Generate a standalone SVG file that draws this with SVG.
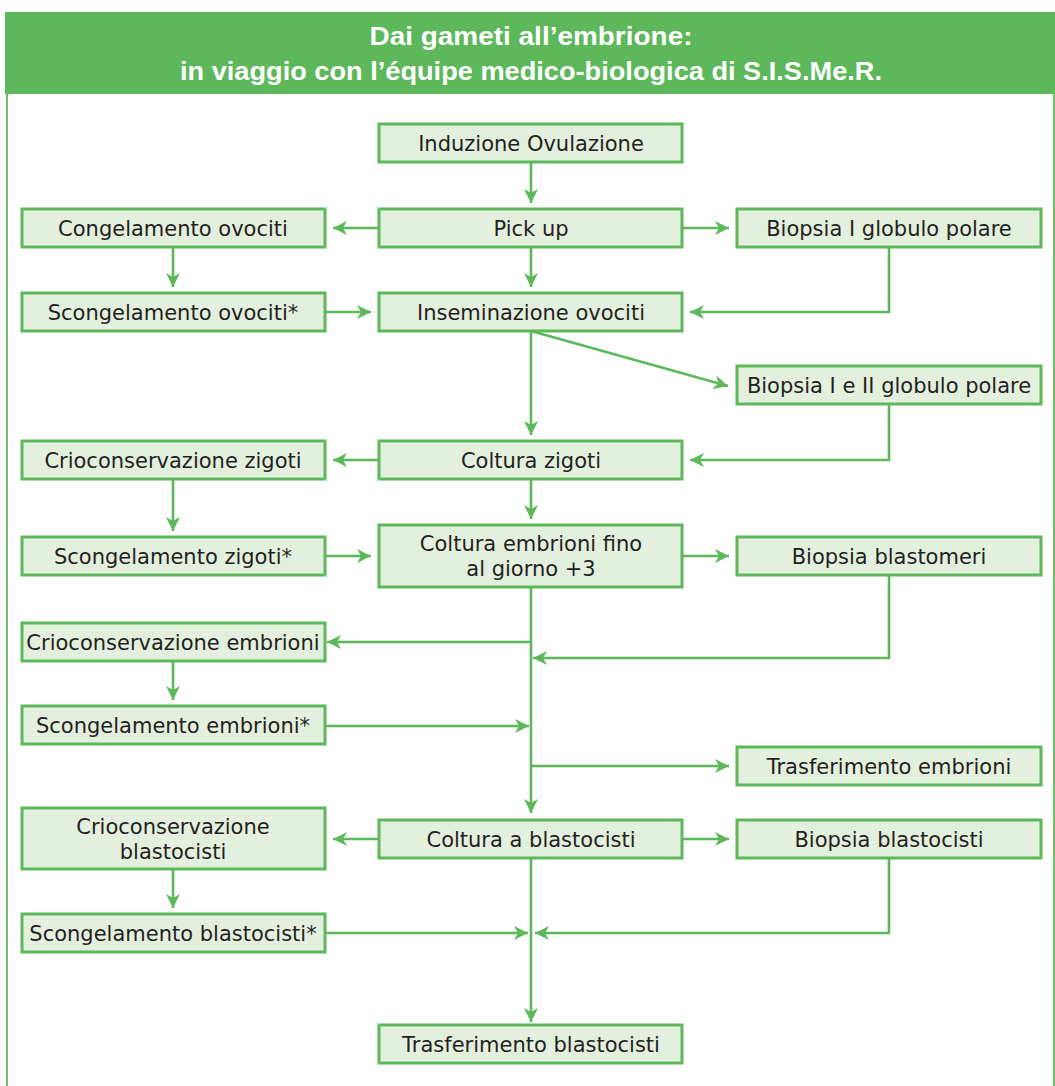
<svg xmlns="http://www.w3.org/2000/svg" width="1055" height="1086" viewBox="0 0 1055 1086">
<style>
.node rect{fill:#e3f0de;stroke:#5cb85a;stroke-width:3}
.node text{font-family:"DejaVu Sans",sans-serif;font-size:21px;fill:#231f20;text-anchor:middle}
.title{font-family:"Liberation Sans",Arial,sans-serif;font-weight:bold;font-size:26px;fill:#ffffff;text-anchor:middle}
#connectors path{fill:none;stroke:#5cb85a;stroke-width:2.6;marker-end:url(#arr)}
</style>
<defs>
<marker id="arr" markerUnits="userSpaceOnUse" markerWidth="16" markerHeight="14" refX="14" refY="7" orient="auto">
<path d="M0,0 L14,7 L0,14 L4,7 z" fill="#5cb85a"/>
</marker>
</defs>
<rect x="0" y="0" width="1055" height="1086" fill="#ffffff"/>
<g id="frame">
<line x1="7" y1="94" x2="7" y2="1086" stroke="#6cc06a" stroke-width="2"/>
<line x1="1054" y1="94" x2="1054" y2="1086" stroke="#6cc06a" stroke-width="2"/>
<rect x="5" y="12" width="1050" height="82" fill="#5cb85a"/>
<text class="title" x="531" y="45" textLength="323" lengthAdjust="spacingAndGlyphs">Dai gameti all’embrione:</text>
<text class="title" x="531" y="80" textLength="702" lengthAdjust="spacingAndGlyphs">in viaggio con l’équipe medico-biologica di S.I.S.Me.R.</text>
</g>
<g id="connectors">
<path d="M531,163 V203"/>
<path d="M379,228 H333"/>
<path d="M682,228 H729"/>
<path d="M173,247 V287"/>
<path d="M531,247 V287"/>
<path d="M325,312 H371"/>
<path d="M889,247 V312 H690"/>
<path d="M531,331 L728,386"/>
<path d="M531,331 V435"/>
<path d="M889,404 V460 H690"/>
<path d="M379,460 H333"/>
<path d="M173,479 V531"/>
<path d="M531,479 V519"/>
<path d="M325,556 H371"/>
<path d="M682,556 H729"/>
<path d="M531,587 V813"/>
<path d="M531,642 H327"/>
<path d="M889,575 V658 H533"/>
<path d="M325,726 H529"/>
<path d="M531,766 H729"/>
<path d="M173,661 V700"/>
<path d="M379,839 H333"/>
<path d="M682,839 H729"/>
<path d="M173,869 V908"/>
<path d="M531,858 V1022"/>
<path d="M325,933 H528"/>
<path d="M889,858 V933 H535"/>
</g>
<g id="n-induzione" class="node"><rect x="379" y="124" width="303" height="38"/><text x="531" y="151">Induzione Ovulazione</text></g>
<g id="n-congelamento-ovociti" class="node"><rect x="22" y="209" width="303" height="38"/><text x="173" y="236">Congelamento ovociti</text></g>
<g id="n-pickup" class="node"><rect x="379" y="209" width="303" height="38"/><text x="531" y="236">Pick up</text></g>
<g id="n-biopsia-1" class="node"><rect x="737" y="209" width="304" height="38"/><text x="889" y="236">Biopsia I globulo polare</text></g>
<g id="n-scongelamento-ovociti" class="node"><rect x="22" y="293" width="303" height="38"/><text x="173" y="320">Scongelamento ovociti*</text></g>
<g id="n-inseminazione" class="node"><rect x="379" y="293" width="303" height="38"/><text x="531" y="320">Inseminazione ovociti</text></g>
<g id="n-biopsia-12" class="node"><rect x="737" y="366" width="304" height="38"/><text x="889" y="393">Biopsia I e II globulo polare</text></g>
<g id="n-crio-zigoti" class="node"><rect x="22" y="441" width="303" height="38"/><text x="173" y="468">Crioconservazione zigoti</text></g>
<g id="n-coltura-zigoti" class="node"><rect x="379" y="441" width="303" height="38"/><text x="531" y="468">Coltura zigoti</text></g>
<g id="n-scong-zigoti" class="node"><rect x="22" y="537" width="303" height="38"/><text x="173" y="564">Scongelamento zigoti*</text></g>
<g id="n-coltura-embrioni" class="node"><rect x="379" y="525" width="303" height="62"/><text x="531" y="551">Coltura embrioni fino</text><text x="531" y="576">al giorno +3</text></g>
<g id="n-biopsia-blastomeri" class="node"><rect x="737" y="537" width="304" height="38"/><text x="889" y="564">Biopsia blastomeri</text></g>
<g id="n-crio-embrioni" class="node"><rect x="22" y="623" width="303" height="38"/><text x="173" y="650">Crioconservazione embrioni</text></g>
<g id="n-scong-embrioni" class="node"><rect x="22" y="706" width="303" height="38"/><text x="173" y="733">Scongelamento embrioni*</text></g>
<g id="n-trasf-embrioni" class="node"><rect x="737" y="747" width="304" height="38"/><text x="889" y="774">Trasferimento embrioni</text></g>
<g id="n-crio-blasto" class="node"><rect x="22" y="808" width="303" height="61"/><text x="173" y="834">Crioconservazione</text><text x="173" y="859">blastocisti</text></g>
<g id="n-coltura-blasto" class="node"><rect x="379" y="820" width="303" height="38"/><text x="531" y="847">Coltura a blastocisti</text></g>
<g id="n-biopsia-blasto" class="node"><rect x="737" y="820" width="304" height="38"/><text x="889" y="847">Biopsia blastocisti</text></g>
<g id="n-scong-blasto" class="node"><rect x="22" y="914" width="303" height="38"/><text x="173" y="941">Scongelamento blastocisti*</text></g>
<g id="n-trasf-blasto" class="node"><rect x="379" y="1025" width="303" height="38"/><text x="531" y="1052">Trasferimento blastocisti</text></g>
</svg>
